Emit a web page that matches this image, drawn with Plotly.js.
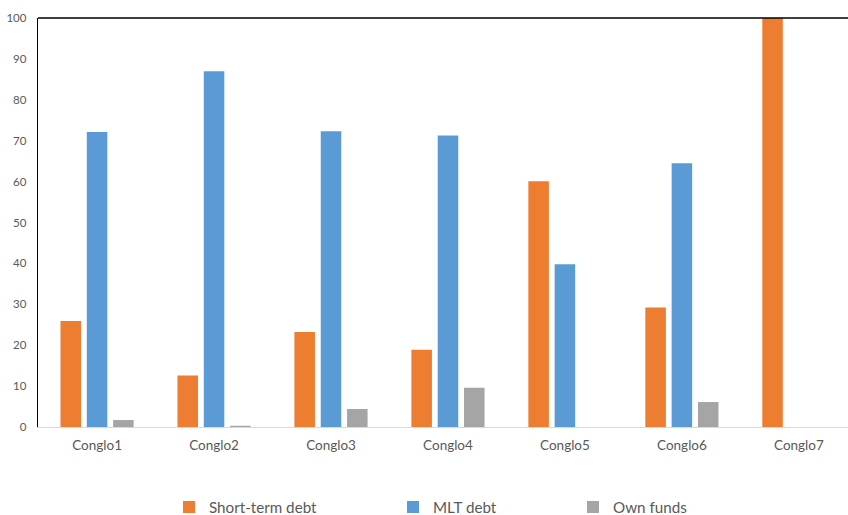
<!DOCTYPE html>
<html>
<head>
<meta charset="utf-8">
<script src="https://cdn.plot.ly/plotly-3.0.1.min.js"></script>
<style>html,body{margin:0;padding:0;background:#fff;}#chart{width:848px;height:515px;}</style>
</head>
<body>
<div id="chart"></div>
<script>
var categories = ["Conglo1", "Conglo2", "Conglo3", "Conglo4", "Conglo5", "Conglo6", "Conglo7"];
var shortTermDebt = [25.9, 12.6, 23.2, 18.9, 60.1, 29.2, 100];
var mltDebt = [72.1, 87.0, 72.3, 71.3, 39.8, 64.5, 0];
var ownFunds = [1.7, 0.3, 4.4, 9.6, 0, 6.1, 0];
var seriesNames = ["Short-term debt", "MLT debt", "Own funds"];
var yTicks = [0, 10, 20, 30, 40, 50, 60, 70, 80, 90, 100];

var colors = ["#ED7D31", "#5B9BD5", "#A5A5A5"];
var font = "Lato, Open Sans, sans-serif";

var traces = [
  {type: "bar", x: categories, y: shortTermDebt, name: seriesNames[0], marker: {color: colors[0]}, legend: "legend"},
  {type: "bar", x: categories, y: mltDebt, name: seriesNames[1], marker: {color: colors[1]}, legend: "legend2"},
  {type: "bar", x: categories, y: ownFunds, name: seriesNames[2], marker: {color: colors[2]}, legend: "legend3"}
];

function leg(x) {
  return {orientation: "h", x: x, xanchor: "left", y: 0.0155, yref: "container", yanchor: "middle",
    font: {family: font, size: 15.2, color: "#595959"}, bgcolor: "rgba(0,0,0,0)", itemclick: false};
}

var layout = {
  width: 848, height: 515,
  margin: {l: 38, r: 0, t: 18, b: 88, autoexpand: false},
  paper_bgcolor: "#fff", plot_bgcolor: "#fff",
  barmode: "group", bargap: 0.325, bargroupgap: 0.22,
  showlegend: true,
  legend: leg(0.1617),
  legend2: leg(0.4383),
  legend3: leg(0.6605),
  xaxis: {
    type: "category", range: [-0.505, 6.42], showgrid: false, zeroline: false,
    showline: true, linecolor: "#D9D9D9", linewidth: 1, ticks: "",
    tickfont: {family: font, size: 13.5, color: "#595959"}, ticklabelstandoff: 6
  },
  yaxis: {
    range: [0, 100], tickvals: yTicks, showgrid: false, zeroline: false,
    showline: true, linecolor: "#000", linewidth: 1.3, ticks: "",
    tickfont: {family: font, size: 11.5, color: "#595959"}, ticklabelstandoff: 8
  },
  shapes: [{type: "line", xref: "paper", yref: "paper", x0: 0, x1: 1, y0: 1, y1: 1,
    line: {color: "#000", width: 1.3}}]
};

Plotly.newPlot("chart", traces, layout, {displayModeBar: false, staticPlot: true});
</script>
</body>
</html>
